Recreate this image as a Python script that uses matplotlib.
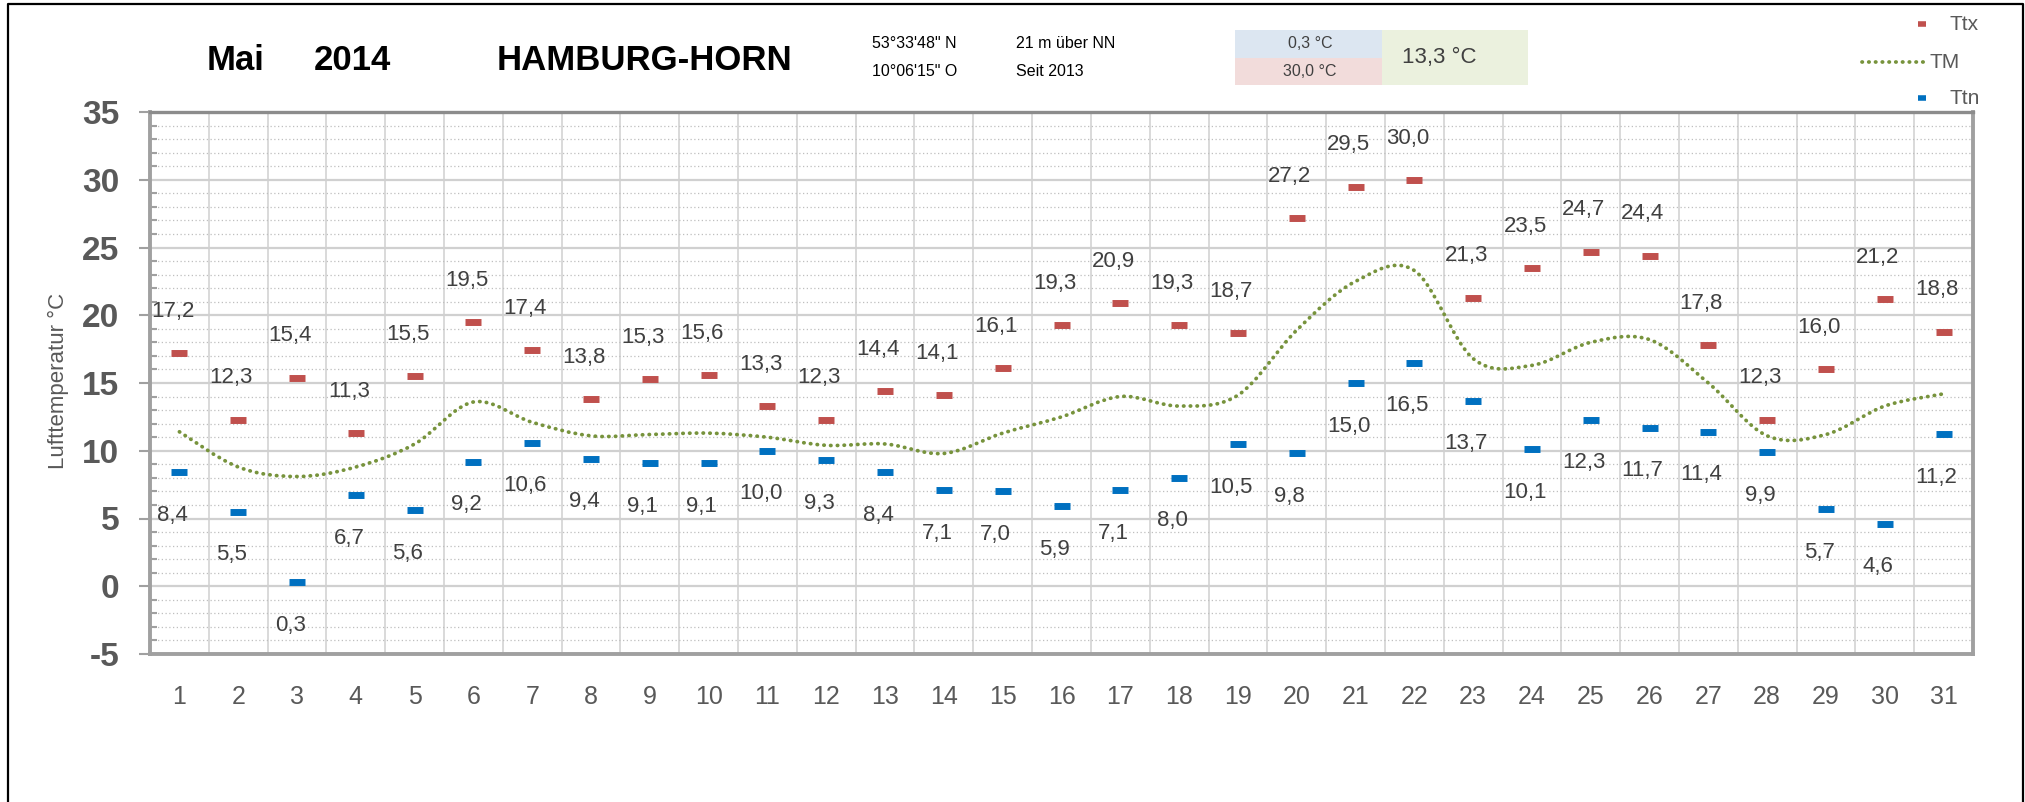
import numpy as np
import matplotlib
matplotlib.use("Agg")
import matplotlib.pyplot as plt
from matplotlib.path import Path
from matplotlib.patches import PathPatch, Rectangle
from matplotlib.lines import Line2D
from matplotlib.ticker import MultipleLocator

plt.rcParams['font.family'] = ['Liberation Sans', 'DejaVu Sans']
plt.rcParams['axes.unicode_minus'] = False

# Mai 2014, Hamburg-Horn
days = list(range(1, 32))
ttx = [17.2, 12.3, 15.4, 11.3, 15.5, 19.5, 17.4, 13.8, 15.3, 15.6, 13.3, 12.3, 14.4, 14.1, 16.1, 19.3,
       20.9, 19.3, 18.7, 27.2, 29.5, 30.0, 21.3, 23.5, 24.7, 24.4, 17.8, 12.3, 16.0, 21.2, 18.8]
ttn = [8.4, 5.5, 0.3, 6.7, 5.6, 9.2, 10.6, 9.4, 9.1, 9.1, 10.0, 9.3, 8.4, 7.1, 7.0, 5.9,
       7.1, 8.0, 10.5, 9.8, 15.0, 16.5, 13.7, 10.1, 12.3, 11.7, 11.4, 9.9, 5.7, 4.6, 11.2]
# daily mean
tm = [11.4, 8.8, 8.1, 8.8, 10.5, 13.6, 12.1, 11.1, 11.2, 11.3, 11.0, 10.4, 10.5, 9.8, 11.3, 12.5,
      14.0, 13.3, 14.1, 18.9, 22.5, 23.3, 16.8, 16.3, 18.0, 18.2, 15.0, 11.1, 11.2, 13.3, 14.2]

station = "HAMBURG-HORN"
month, year = "Mai", "2014"
t_min_month, t_max_month, t_mean_month = "0,3 °C", "30,0 °C", "13,3 °C"

RED = '#C0504D'
BLUE = '#0070C0'
GREEN = '#77933C'
GRAY = '#595959'
TXT = '#404040'


def fmt(v):
    return f"{v:.1f}".replace('.', ',')


fig = plt.figure(figsize=(20.25, 8.02), dpi=100)
W, H = 2025, 802
ax = fig.add_axes([150 / W, 1 - 654 / H, (1973 - 150) / W, (654 - 112) / H])

ax.set_xlim(0.5, 31.5)
ax.set_ylim(-5, 35)

# grid
ax.yaxis.set_major_locator(MultipleLocator(5))
ax.yaxis.set_minor_locator(MultipleLocator(1))
ax.set_xticks(days)
for xv in np.arange(1.5, 31.5, 1.0):
    ax.axvline(xv, color='#D9D9D9', lw=1.4, zorder=0)
ax.grid(which='major', axis='y', color='#D0D0D0', lw=1.6, zorder=0)
ax.grid(which='minor', axis='y', color='#BFBFBF', lw=0.9, ls=(0, (1, 2)), zorder=0)
ax.axhline(0, color='#5B9BD5', lw=1.3, zorder=1)

for s in ['left', 'right', 'bottom']:
    ax.spines[s].set_color('#A0A0A0')
    ax.spines[s].set_linewidth(2.8)
ax.spines['top'].set_color('#8C8C8C')
ax.spines['top'].set_linewidth(2.4)

ax.tick_params(axis='y', which='major', direction='out', length=8, width=1.5, color='#A0A0A0',
               labelsize=24, labelcolor=GRAY, pad=14)
ax.tick_params(axis='y', which='minor', direction='in', length=5, width=1.5, color='#A0A0A0')
ax.tick_params(axis='x', length=0, labelsize=18, labelcolor=GRAY, pad=22)
for lab in ax.get_yticklabels():
    lab.set_fontweight('bold')

# smoothed mean line (Bezier through the daily means)
xs = np.array(days, dtype=float)
ys = np.array(tm)
verts = [(xs[0], ys[0])]
codes = [Path.MOVETO]
for i in range(len(xs) - 1):
    p0 = np.array([xs[max(i - 1, 0)], ys[max(i - 1, 0)]])
    p1 = np.array([xs[i], ys[i]])
    p2 = np.array([xs[i + 1], ys[i + 1]])
    p3 = np.array([xs[min(i + 2, len(xs) - 1)], ys[min(i + 2, len(xs) - 1)]])
    c1 = p1 + (p2 - p0) / 6
    c2 = p2 - (p3 - p1) / 6
    verts += [tuple(c1), tuple(c2), tuple(p2)]
    codes += [Path.CURVE4] * 3
tm_patch = PathPatch(Path(verts, codes), fill=False, edgecolor=GREEN, lw=2.7,
                     ls=(0, (0.1, 1.7)), capstyle='round', zorder=3)
ax.add_patch(tm_patch)

ax.plot(days, ttx, ls='none', marker='_', ms=11.5, mew=5, color=RED, zorder=4)
ax.plot(days, ttn, ls='none', marker='_', ms=11.5, mew=5, color=BLUE, zorder=4)

for d, v in zip(days, ttx):
    ax.annotate(fmt(v), (d, v), xytext=(-5, 30), textcoords='offset points',
                ha='center', va='center', fontsize=16, color=TXT, zorder=5)
for d, v in zip(days, ttn):
    ax.annotate(fmt(v), (d, v), xytext=(-5, -31), textcoords='offset points',
                ha='center', va='center', fontsize=16, color=TXT, zorder=5)

fig.text(58 / W, 1 - 381 / H, "Lufttemperatur °C", rotation=90, ha='center', va='center',
         fontsize=16, color=GRAY)

# header
fig.text(207 / W, 1 - 60 / H, month, fontsize=25, fontweight='bold', va='center')
fig.text(314 / W, 1 - 60 / H, year, fontsize=25, fontweight='bold', va='center')
fig.text(497 / W, 1 - 60 / H, station, fontsize=25, fontweight='bold', va='center')
fig.text(872 / W, 1 - 43 / H, "53°33'48\" N", fontsize=11.5, va='center')
fig.text(872 / W, 1 - 71 / H, "10°06'15\" O", fontsize=11.5, va='center')
fig.text(1016 / W, 1 - 43 / H, "21 m über NN", fontsize=11.5, va='center')
fig.text(1016 / W, 1 - 71 / H, "Seit 2013", fontsize=11.5, va='center')

fig.add_artist(Rectangle((1235 / W, 1 - 58 / H), 147 / W, 28 / H, transform=fig.transFigure,
                         facecolor='#DCE6F1', edgecolor='none'))
fig.add_artist(Rectangle((1235 / W, 1 - 85 / H), 147 / W, 27 / H, transform=fig.transFigure,
                         facecolor='#F2DCDB', edgecolor='none'))
fig.add_artist(Rectangle((1382 / W, 1 - 85 / H), 146 / W, 55 / H, transform=fig.transFigure,
                         facecolor='#EBF1DE', edgecolor='none'))
fig.text(1310 / W, 1 - 44 / H, t_min_month, fontsize=11.5, color=TXT, ha='center', va='center')
fig.text(1310 / W, 1 - 71 / H, t_max_month, fontsize=11.5, color=TXT, ha='center', va='center')
fig.text(1402 / W, 1 - 58 / H, t_mean_month, fontsize=16, color=TXT, va='center')

# legend
fig.add_artist(Line2D([1922 / W], [1 - 24 / H], transform=fig.transFigure, ls='none', marker='_',
                      ms=6, mew=4, color=RED))
fig.add_artist(Line2D([1862 / W, 1926 / W], [1 - 62 / H, 1 - 62 / H], transform=fig.transFigure,
                      color=GREEN, lw=2.7, ls=(0, (0.1, 1.7)), solid_capstyle='round',
                      dash_capstyle='round'))
fig.add_artist(Line2D([1922 / W], [1 - 98 / H], transform=fig.transFigure, ls='none', marker='_',
                      ms=6, mew=4, color=BLUE))
for txt, yy in [("Ttx", 24), ("TM", 62), ("Ttn", 98)]:
    fig.text(1950 / W if txt != "TM" else 1930 / W, 1 - yy / H, txt, fontsize=15, color=GRAY,
             va='center')

# outer frame
fig.add_artist(Line2D([8 / W, 8 / W, 2023 / W, 2023 / W], [0, 1 - 4 / H, 1 - 4 / H, 0],
                      transform=fig.transFigure, color='black', lw=1.6))

fig.savefig("out.png", dpi=100)
